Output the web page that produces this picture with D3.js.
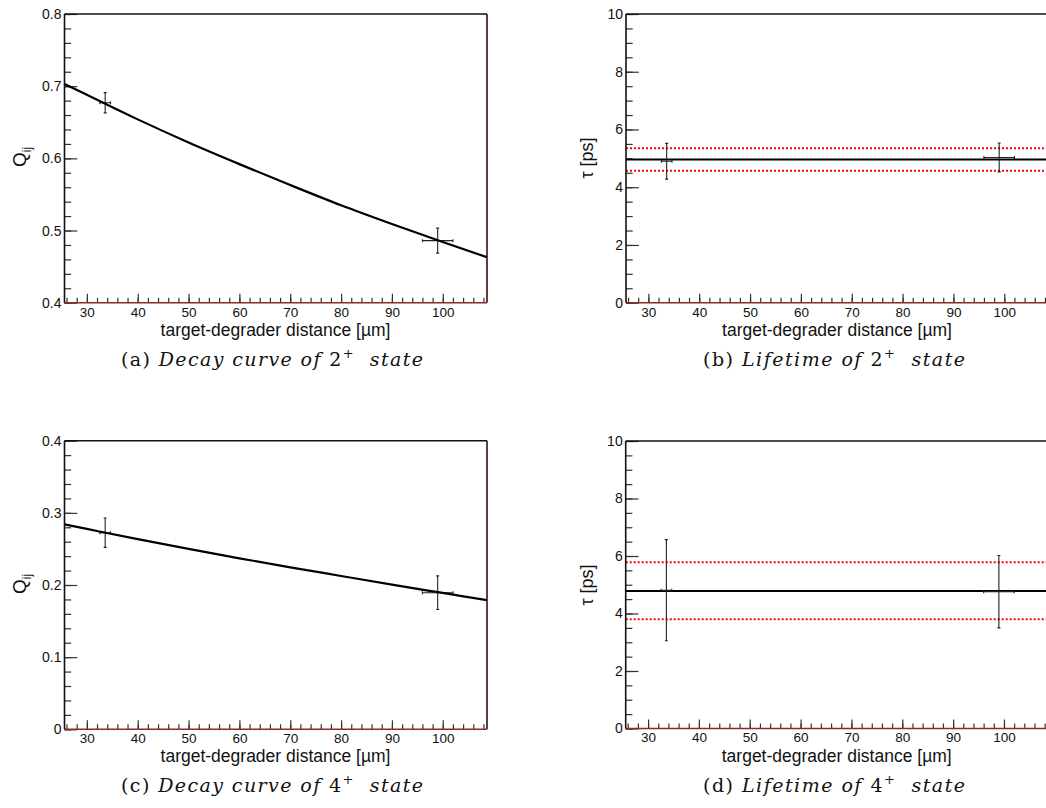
<!DOCTYPE html>
<html>
<head>
<meta charset="utf-8">
<script src="https://cdn.jsdelivr.net/npm/d3@7"></script>
<style>
  html, body { margin: 0; padding: 0; background: #fff; }
  svg { display: block; }
</style>
</head>
<body>
<svg id="chart" width="1046" height="808"></svg>
<script>
// ---------------- data ----------------
const xDomain = [25.6, 108.7];
const xMajorTicks = [30, 40, 50, 60, 70, 80, 90, 100];
const xAxisTitle = "target-degrader distance [\u00b5m]";

const distance = [33.6, 99.0];
const distanceErr = [1.05, 3.0];

// (a) decay curve of 2+ state
const q2 = [0.677, 0.486];
const q2Err = [0.014, 0.0173];
const curveX = [25.6, 30, 40, 50, 60, 70, 80, 90, 100, 108.7];
const curveQ2 = [0.703, 0.688, 0.654, 0.622, 0.592, 0.563, 0.535, 0.509, 0.484, 0.463];
const q2Ticks = [0.4, 0.5, 0.6, 0.7, 0.8];
const q2TickLabels = ["0.4", "0.5", "0.6", "0.7", "0.8"];

// (c) decay curve of 4+ state
const q4 = [0.2725, 0.1893];
const q4Err = [0.0203, 0.0233];
const curveQ4 = [0.284, 0.2777, 0.2635, 0.2500, 0.2370, 0.2245, 0.2125, 0.2005, 0.1890, 0.1790];
const q4Ticks = [0, 0.1, 0.2, 0.3, 0.4];
const q4TickLabels = ["0", "0.1", "0.2", "0.3", "0.4"];

// (b) lifetime of 2+ state
const tau2 = [4.90, 5.03];
const tau2Err = [0.62, 0.50];
const tau2Fit = [4.96];
const tau2Band = [4.57, 5.35];

// (d) lifetime of 4+ state
const tau4 = [4.81, 4.76];
const tau4Err = [1.76, 1.26];
const tau4Fit = [4.78];
const tau4Band = [3.80, 5.78];

const tauTicks = [0, 2, 4, 6, 8, 10];
const tauTickLabels = ["0", "2", "4", "6", "8", "10"];

// ---------------- drawing ----------------
const svg = d3.select("#chart");
const SANS = "'Liberation Sans', Arial, Helvetica, sans-serif";
const SERIF = "'DejaVu Serif', 'Liberation Serif', serif";

function range(a, b, step) {
  const out = [];
  for (let v = a; v <= b + 1e-9; v += step) out.push(+v.toFixed(6));
  return out;
}

function panel(cfg) {
  const g = svg.append("g");
  const x = d3.scaleLinear().domain(xDomain).range([cfg.left, cfg.left + 422.5]);
  const y = d3.scaleLinear().domain(cfg.yDomain).range([cfg.bottom, cfg.top]);
  const clipId = "clip" + cfg.id;
  svg.append("clipPath").attr("id", clipId).append("rect")
    .attr("x", cfg.left).attr("y", cfg.top)
    .attr("width", 422.5).attr("height", cfg.bottom - cfg.top);

  // minor y ticks
  g.append("g").attr("transform", `translate(${cfg.left},0)`)
    .call(d3.axisLeft(y).tickValues(range(cfg.yDomain[0], cfg.yDomain[1], cfg.yMinor))
      .tickSize(-6.7).tickFormat(""))
    .call(s => s.select(".domain").remove())
    .call(s => s.selectAll("text").remove())
    .call(s => s.selectAll("line").attr("stroke", "#333").attr("stroke-width", 1.2));
  // major y ticks
  g.append("g").attr("transform", `translate(${cfg.left},0)`)
    .call(d3.axisLeft(y).tickValues(cfg.yTicks).tickSize(-12.8).tickPadding(3)
      .tickFormat((d, i) => cfg.yLabels[i]))
    .call(s => s.select(".domain").remove())
    .call(s => s.selectAll("line").attr("stroke", "#333").attr("stroke-width", 1.2))
    .call(s => s.selectAll("text").attr("font-family", SANS).attr("font-size", 14).attr("fill", "#111"));

  // minor x ticks
  g.append("g").attr("transform", `translate(0,${cfg.bottom})`)
    .call(d3.axisBottom(x).tickValues(range(26, 108, 2)).tickSize(-5).tickFormat(""))
    .call(s => s.select(".domain").remove())
    .call(s => s.selectAll("text").remove())
    .call(s => s.selectAll("line").attr("stroke", "#333").attr("stroke-width", 1.2));
  // major x ticks
  g.append("g").attr("transform", `translate(0,${cfg.bottom})`)
    .call(d3.axisBottom(x).tickValues(xMajorTicks).tickSize(-9).tickPadding(4.4)
      .tickFormat(d3.format("d")))
    .call(s => s.select(".domain").remove())
    .call(s => s.selectAll("line").attr("stroke", "#333").attr("stroke-width", 1.2))
    .call(s => s.selectAll("text").attr("font-family", SANS).attr("font-size", 13.5).attr("fill", "#111"));

  // plot content
  const c = g.append("g").attr("clip-path", `url(#${clipId})`);
  cfg.draw(c, x, y);

  // frame
  const fr = g.append("g");
  fr.append("line").attr("x1", cfg.left).attr("x2", cfg.left + 422.5)
    .attr("y1", cfg.top).attr("y2", cfg.top).attr("stroke", "#111").attr("stroke-width", 1.6);
  fr.append("line").attr("x1", cfg.left + 422.5).attr("x2", cfg.left + 422.5)
    .attr("y1", cfg.top).attr("y2", cfg.bottom).attr("stroke", "#3d0c0c").attr("stroke-width", 1.6);
  fr.append("line").attr("x1", cfg.left).attr("x2", cfg.left + 422.5)
    .attr("y1", cfg.bottom).attr("y2", cfg.bottom).attr("stroke", "#8a2a2a").attr("stroke-width", 1.6);
  fr.append("line").attr("x1", cfg.left).attr("x2", cfg.left)
    .attr("y1", cfg.top).attr("y2", cfg.bottom).attr("stroke", "#111").attr("stroke-width", 1.6);

  // x title
  g.append("text").attr("x", cfg.left + 211).attr("y", cfg.bottom + 33)
    .attr("text-anchor", "middle").attr("font-family", SANS).attr("font-size", 17.5)
    .attr("fill", "#111").text(xAxisTitle);

  // y title
  cfg.yTitle(g);

  // caption
  const cap = g.append("text").attr("x", cfg.capX).attr("y", cfg.bottom + 63)
    .attr("text-anchor", "middle").attr("font-family", SERIF).attr("font-size", 19)
    .attr("fill", "#111").attr("textLength", cfg.capLen).attr("lengthAdjust", "spacing");
  cap.append("tspan").text(`(${cfg.letter}) `);
  cap.append("tspan").attr("font-style", "italic").text(cfg.capText + " ");
  cap.append("tspan").text(cfg.spin);
  cap.append("tspan").attr("dy", -8).attr("font-size", 13).text("+");
  cap.append("tspan").attr("dy", 8).attr("font-style", "italic").text("\u00a0 state");
}

function errorBars(c, x, y, ys, yerr) {
  ys.forEach((v, i) => {
    const px = x(distance[i]), py = y(v);
    const g = c.append("g").attr("stroke", "#222").attr("stroke-width", 1.1).attr("fill", "none");
    const x0 = x(distance[i] - distanceErr[i]), x1 = x(distance[i] + distanceErr[i]);
    const y0 = y(v - yerr[i]), y1 = y(v + yerr[i]);
    g.append("line").attr("x1", x0).attr("x2", x1).attr("y1", py).attr("y2", py);
    g.append("line").attr("x1", x0).attr("x2", x0).attr("y1", py - 1.5).attr("y2", py + 1.5);
    g.append("line").attr("x1", x1).attr("x2", x1).attr("y1", py - 1.5).attr("y2", py + 1.5);
    g.append("line").attr("x1", px).attr("x2", px).attr("y1", y0).attr("y2", y1);
    g.append("line").attr("x1", px - 1.5).attr("x2", px + 1.5).attr("y1", y0).attr("y2", y0);
    g.append("line").attr("x1", px - 1.5).attr("x2", px + 1.5).attr("y1", y1).attr("y2", y1);
  });
}

function qTitle(cx, cy) {
  return g => {
    const t = g.append("text").attr("transform", `translate(${cx},${cy}) rotate(-90)`)
      .attr("text-anchor", "middle").attr("font-family", SANS).attr("font-size", 19).attr("fill", "#111");
    t.append("tspan").text("Q");
    t.append("tspan").attr("dy", 5).attr("font-size", 12).text("ij");
  };
}
function tauTitle(cx, cy) {
  return g => {
    g.append("text").attr("transform", `translate(${cx},${cy}) rotate(-90)`)
      .attr("text-anchor", "middle").attr("font-family", SANS).attr("font-size", 18).attr("fill", "#111")
      .text("\u03c4 [ps]");
  };
}

function curveDraw(curveY, ys, yerr) {
  return (c, x, y) => {
    errorBars(c, x, y, ys, yerr);
    c.append("path").datum(curveX.map((d, i) => [d, curveY[i]]))
      .attr("d", d3.line().x(d => x(d[0])).y(d => y(d[1])).curve(d3.curveMonotoneX))
      .attr("fill", "none").attr("stroke", "#000").attr("stroke-width", 2.2);
  };
}
function tauDraw(ys, yerr, fit, band) {
  return (c, x, y) => {
    band.forEach(b => {
      c.append("line").attr("x1", x(xDomain[0])).attr("x2", x(xDomain[1]))
        .attr("y1", y(b)).attr("y2", y(b))
        .attr("stroke", "#ff0000").attr("stroke-width", 2).attr("stroke-dasharray", "2,2");
    });
    fit.forEach(f => {
      c.append("line").attr("x1", x(xDomain[0])).attr("x2", x(xDomain[1]))
        .attr("y1", y(f)).attr("y2", y(f))
        .attr("stroke", "#000").attr("stroke-width", 2);
    });
    errorBars(c, x, y, ys, yerr);
  };
}

panel({ id: "a", letter: "a", left: 64.5, top: 14, bottom: 302.7, yDomain: [0.4, 0.8],
  yTicks: q2Ticks, yLabels: q2TickLabels, yMinor: 0.02,
  draw: curveDraw(curveQ2, q2, q2Err), yTitle: qTitle(26, 157),
  capX: 272, capLen: 302, capText: "Decay curve of", spin: "2" });

panel({ id: "b", letter: "b", left: 626, top: 14, bottom: 302.7, yDomain: [0, 10],
  yTicks: tauTicks, yLabels: tauTickLabels, yMinor: 0.5,
  draw: tauDraw(tau2, tau2Err, tau2Fit, tau2Band), yTitle: tauTitle(593, 158),
  capX: 834, capLen: 262, capText: "Lifetime of", spin: "2" });

panel({ id: "c", letter: "c", left: 64.5, top: 440.7, bottom: 729.3, yDomain: [0, 0.4],
  yTicks: q4Ticks, yLabels: q4TickLabels, yMinor: 0.02,
  draw: curveDraw(curveQ4, q4, q4Err), yTitle: qTitle(26, 584),
  capX: 272, capLen: 302, capText: "Decay curve of", spin: "4" });

panel({ id: "d", letter: "d", left: 625.7, top: 441, bottom: 728.5, yDomain: [0, 10],
  yTicks: tauTicks, yLabels: tauTickLabels, yMinor: 0.5,
  draw: tauDraw(tau4, tau4Err, tau4Fit, tau4Band), yTitle: tauTitle(593, 585),
  capX: 834, capLen: 262, capText: "Lifetime of", spin: "4" });
</script>
</body>
</html>
